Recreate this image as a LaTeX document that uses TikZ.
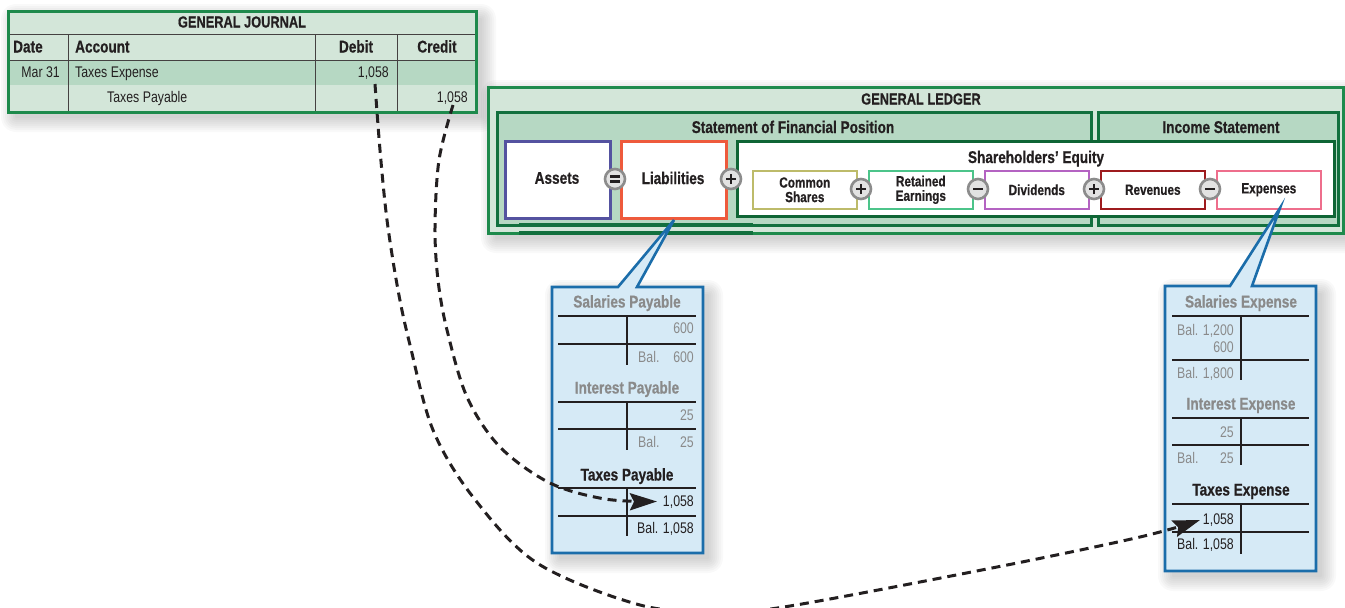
\documentclass[tikz,border=0pt]{standalone}
\usepackage{fontspec}
\setmainfont{Liberation Sans}[FakeStretch=0.8, BoldFeatures={FakeBold=0.6}]
\usetikzlibrary{arrows.meta}
\definecolor{jgreen}{HTML}{1E8A4C}
\definecolor{dgreen}{HTML}{12703E}
\definecolor{lfill}{HTML}{D3E6D9}
\definecolor{mfill}{HTML}{B6D8C3}
\definecolor{pblue}{HTML}{1B6DAA}
\definecolor{pfill}{HTML}{D6EAF6}
\definecolor{tgray}{HTML}{8A8A8A}
\definecolor{txt}{HTML}{231F20}
\definecolor{cassets}{HTML}{5452A0}
\definecolor{cliab}{HTML}{EE5A3C}
\definecolor{ccommon}{HTML}{BDBB6A}
\definecolor{cretained}{HTML}{4CC48A}
\definecolor{cdiv}{HTML}{B463C2}
\definecolor{crev}{HTML}{9E1B1E}
\definecolor{cexp}{HTML}{EE6E8C}
\definecolor{cequity}{HTML}{0F6535}
\definecolor{circring}{HTML}{8C8C8C}
\definecolor{circfill}{HTML}{E2E2E2}
\newcommand{\softshadow}[4]{%
  \foreach \s in {1,3,...,15} {
    \fill[black, opacity=0.022, rounded corners=\s pt] (#1+8-\s,#2+8-\s) rectangle (#3+5+\s,#4+5+\s);
  }}
\tikzset{
  ttl/.style={font=\bfseries\fontsize{17}{19}\selectfont, text=txt, inner sep=0pt, anchor=base},
  ttlu/.style={ttl, font=\bfseries\fontsize{16}{18}\selectfont},
  ttll/.style={ttl, anchor=base west},
  reg/.style={font=\fontsize{15.4}{17}\selectfont, text=txt, inner sep=0pt, anchor=base},
  regl/.style={reg, anchor=base west},
  regr/.style={reg, anchor=base east},
  gregr/.style={regr, text=tgray},
  gregl/.style={regl, text=tgray},
  gttl/.style={ttl, text=tgray},
  sml/.style={font=\bfseries\fontsize{14.7}{16}\selectfont, text=txt, inner sep=0pt, align=center},
  smallbox/.style={draw, line width=1.6pt, fill=white, minimum width=104pt, minimum height=38pt, inner sep=0pt, anchor=north west},
  bigbox/.style={draw, line width=3pt, fill=white, minimum width=105pt, minimum height=77pt, inner sep=0pt, anchor=north west},
  opcirc/.style={circle, draw=circring, fill=circfill, line width=2.6pt, minimum size=20pt, inner sep=0pt},
  opsign/.style={line width=2.6pt, txt},
  gridln/.style={line width=1pt, draw=txt!85},
  tacc/.style={line width=1.4pt, txt},
  callout/.style={draw=pblue, fill=pfill, line width=2.6pt, line join=miter},
  flow/.style={txt, line width=3pt, dash pattern=on 9pt off 6pt, -{Stealth[length=27pt,width=17pt,inset=4pt]}},
}
\begin{document}
\begin{tikzpicture}[x=1pt,y=-1pt]
\useasboundingbox (0,0) rectangle (1345,608);

% shadows
\softshadow{8}{11}{476}{112}
\softshadow{488}{87}{1343.5}{233}
\softshadow{552}{287}{703}{553}
\softshadow{1165}{286}{1316}{571}

% ---------------- General journal
\fill[lfill] (8,11) rectangle (476,112);
\fill[mfill] (8,60) rectangle (476,85);
\draw[gridln] (8,34) -- (476,34);
\draw[gridln] (8,60) -- (476,60);
\draw[gridln] (68,34) -- (68,112);
\draw[gridln] (315,34) -- (315,112);
\draw[gridln] (397,34) -- (397,112);
\draw[jgreen, line width=3pt] (8,11) rectangle (476,112);
\node[ttlu] (jtitle) at (242,27.5) {GENERAL JOURNAL};
\node[ttll] (jdate) at (13,52.5) {Date};
\node[ttll] (jacct) at (75,52.5) {Account};
\node[ttl] (jdebit) at (356,52.5) {Debit};
\node[ttl] (jcredit) at (437,52.5) {Credit};
\node[regr] (jd1) at (60,77.5) {Mar 31};
\node[regl] (ja1) at (75,77.5) {Taxes Expense};
\node[regr] (jdb1) at (389,77.5) {1,058};
\node[regl] (ja2) at (107,102.5) {Taxes Payable};
\node[regr] (jcr2) at (468,102.5) {1,058};
\coordinate (jd) at (375,84);
\coordinate (jc) at (453,105);

% ---------------- General ledger
\fill[lfill] (488,87) rectangle (1343.5,233);
\draw[jgreen, line width=3pt] (488,87) rectangle (1343.5,233);
\node[ttlu] (ltitle) at (921,104.5) {GENERAL LEDGER};
\draw[dgreen, line width=3pt, fill=mfill] (497,112) rectangle (1091,225);
\draw[dgreen, line width=3pt, fill=mfill] (1098,112) rectangle (1338,225);
\draw[dgreen, line width=3.4pt] (519,224.5) -- (753,224.5);
\draw[dgreen, line width=3.4pt] (519,233) -- (753,233);
\node[ttl] (sfp) at (793,133) {Statement of Financial Position};
\node[ttl] (incst) at (1221,133) {Income Statement};

\node[bigbox, draw=cassets] (assets) at (504,140) {};
\node[ttl, anchor=center] (assetst) at (557,178) {Assets};
\node[bigbox, draw=cliab] (liab) at (620,140) {};
\node[ttl, anchor=center] (liabt) at (673,178) {Liabilities};

\draw[cequity, line width=3pt, fill=white] (737,141) rectangle (1334.5,216);
\node[ttl] (eqt) at (1036,163) {Shareholders’ Equity};

\node[smallbox, draw=ccommon] (common) at (752,170) {};
\node[sml] at (common.center) {Common\\[-1.5pt]Shares};
\node[smallbox, draw=cretained] (retained) at (868,170) {};
\node[sml] at (retained.center) {Retained\\[-1.5pt]Earnings};
\node[smallbox, draw=cdiv] (divid) at (984,170) {};
\node[sml] at (divid.center) {Dividends};
\node[smallbox, draw=crev] (reven) at (1100,170) {};
\node[sml] at (reven.center) {Revenues};
\node[smallbox, draw=cexp] (expen) at (1216,170) {};
\node[sml] at (expen.center) {Expenses};

% operator circles
\node[opcirc] (eqc) at (615,179) {};
\draw[opsign] ([xshift=-5pt,yshift=2.6pt]eqc.center) -- ([xshift=5pt,yshift=2.6pt]eqc.center);
\draw[opsign] ([xshift=-5pt,yshift=-2.6pt]eqc.center) -- ([xshift=5pt,yshift=-2.6pt]eqc.center);
\foreach \nm/\px/\py in {pa/731/179, pb/861/189, pc/1094/189} {
  \node[opcirc] (\nm) at (\px,\py) {};
  \draw[opsign] ([xshift=-5pt]\nm.center) -- ([xshift=5pt]\nm.center);
  \draw[opsign] ([yshift=-5pt]\nm.center) -- ([yshift=5pt]\nm.center);
}
\foreach \nm/\px/\py in {ma/978/189, mb/1210/189} {
  \node[opcirc] (\nm) at (\px,\py) {};
  \draw[opsign] ([xshift=-5pt]\nm.center) -- ([xshift=5pt]\nm.center);
}

% ---------------- Liabilities T-accounts panel
\draw[callout] (552,287) -- (618,287) -- (liab.south) -- (637,287) -- (703,287) -- (703,553) -- (552,553) -- cycle;
\node[gttl] (sp) at (627,307.5) {Salaries Payable};
\draw[tacc] (558,316) -- (696,316);
\draw[tacc] (558,344) -- (696,344);
\draw[tacc] (627,316) -- (627,365);
\node[gregr] (sp1) at (694,333) {600};
\node[gregl] (sp2) at (638,362) {Bal.};
\node[gregr] (sp3) at (694,362) {600};

\node[gttl] (ip) at (627,393.5) {Interest Payable};
\draw[tacc] (558,402) -- (696,402);
\draw[tacc] (558,429) -- (696,429);
\draw[tacc] (627,402) -- (627,450);
\node[gregr] (ip1) at (694,420) {25};
\node[gregl] (ip2) at (638,447) {Bal.};
\node[gregr] (ip3) at (694,447) {25};

\node[ttl] (tp) at (627,480.5) {Taxes Payable};
\draw[tacc] (558,488) -- (696,488);
\draw[tacc] (558,516) -- (696,516);
\draw[tacc] (627,488) -- (627,536);
\node[regr] (tp1) at (694,506) {1,058};
\node[regr] (tp2) at (694,533) {Bal. 1,058};
\coordinate (tpin) at (657,501.5);

% ---------------- Expenses T-accounts panel
\draw[callout] (1165,286) -- (1230,286) -- (1280,208) -- (1252,286) -- (1316,286) -- (1316,571) -- (1165,571) -- cycle;
\node[gttl] (se) at (1241,307.5) {Salaries Expense};
\draw[tacc] (1172,316) -- (1309,316);
\draw[tacc] (1172,360) -- (1309,360);
\draw[tacc] (1241,316) -- (1241,380);
\node[gregr] (se1) at (1234,335) {Bal. 1,200};
\node[gregr] (se2) at (1234,352) {600};
\node[gregr] (se3) at (1234,378) {Bal. 1,800};

\node[gttl] (ie) at (1241,409.5) {Interest Expense};
\draw[tacc] (1172,418) -- (1309,418);
\draw[tacc] (1172,445) -- (1309,445);
\draw[tacc] (1241,418) -- (1241,465);
\node[gregr] (ie1) at (1234,437) {25};
\node[gregl] (ie2) at (1177,463) {Bal.};
\node[gregr] (ie3) at (1234,463) {25};

\node[ttl] (te) at (1241,495.5) {Taxes Expense};
\draw[tacc] (1172,504) -- (1309,504);
\draw[tacc] (1172,532) -- (1309,532);
\draw[tacc] (1241,504) -- (1241,554);
\node[regr] (te1) at (1234,524) {1,058};
\node[regr] (te2) at (1234,549) {Bal. 1,058};
\coordinate (tein) at (1200,520);

% ---------------- posting arrows
\draw[flow] plot[smooth, tension=0.55] coordinates {(jc) (439,160) (435,227) (438,280) (447,330) (467,397) (500,447) (550,483) (605,499) (tpin)};
\draw[flow] plot[smooth, tension=0.55] coordinates {(jd) (380,150) (387,220) (398,290) (410,345) (433,430) (473,497) (537,563) (640,605) (720,612) (790,606) (997,567) (1140,537) (tein)};
\end{tikzpicture}
\end{document}
